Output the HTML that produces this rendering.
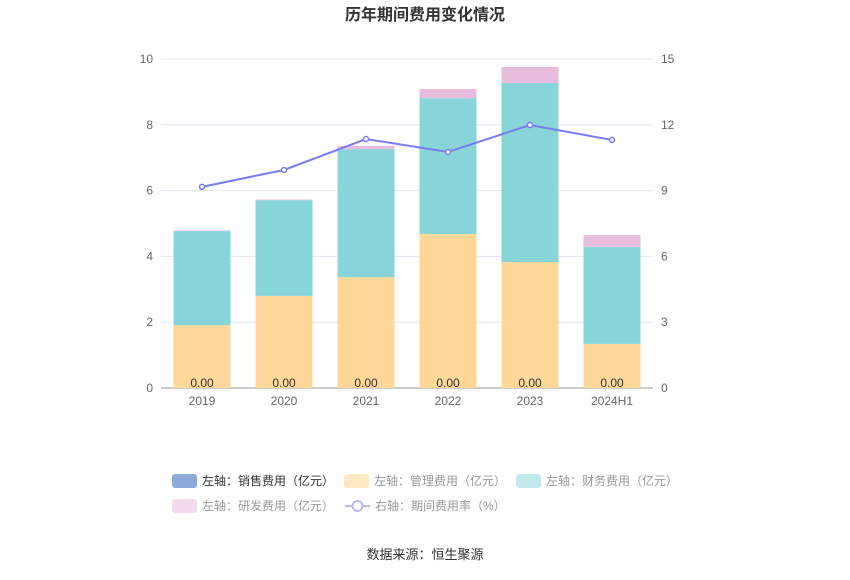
<!DOCTYPE html>
<html><head><meta charset="utf-8"><style>
body{margin:0;background:#fff;font-family:"Liberation Sans","Noto Sans CJK SC",sans-serif;}
</style></head><body>
<svg id="c" width="850" height="575" xmlns="http://www.w3.org/2000/svg" style="font-family:'Liberation Sans','Noto Sans CJK SC',sans-serif">
<text x="425" y="20" text-anchor="middle" font-size="16" font-weight="bold" fill="#333">历年期间费用变化情况</text>
<text x="425" y="559" text-anchor="middle" font-size="13" fill="#333">数据来源：恒生聚源</text>
<g id="grid"></g><g id="bars"></g><g id="line"></g><g id="legend"></g>
</svg>
<script>
const categories=["2019","2020","2021","2022","2023","2024H1"];
const sales=[0,0,0,0,0,0];
const mgmt=[1.91,2.80,3.37,4.68,3.83,1.34];
const finance=[2.86,2.91,3.89,4.13,5.44,2.95];
const rd=[0.02,0.02,0.10,0.28,0.49,0.36];
const rate=[9.17,9.94,11.35,10.76,11.99,11.31];
const leftTicks=[0,2,4,6,8,10];
const rightTicks=[0,3,6,9,12,15];
const NS="http://www.w3.org/2000/svg";
const x0=161,x1=653,yb=388,yt=59;
const yL=v=>yb-(v/10)*(yb-yt);
const yR=v=>yb-(v/15)*(yb-yt);
const step=(x1-x0)/categories.length;
const xC=i=>x0+step*(i+0.5);
function mk(tag,attrs,parent,text){const e=document.createElementNS(NS,tag);for(const k in attrs)e.setAttribute(k,attrs[k]);if(text!==undefined)e.textContent=text;parent.appendChild(e);return e;}
const g=document.getElementById('grid');
leftTicks.forEach((t,i)=>{
  const y=yL(t);
  const l=mk('line',{x1:x0,x2:x1,y1:y,y2:y,stroke:i===0?'#999':'#e0e6f1','stroke-width':1},g);
  
  
  const a=mk('text',{x:x0-8,y:y+4,'text-anchor':'end','font-size':12,fill:'#666'},g,t);
  
  
});
rightTicks.forEach(t=>{
  const b=mk('text',{x:x1+8,y:yR(t)+4,'text-anchor':'start','font-size':12,fill:'#666'},g,t);
  
  
});
categories.forEach((c,i)=>{
  const t=mk('text',{x:xC(i),y:yb+17,'text-anchor':'middle','font-size':12,fill:'#666'},g,c);
  
  
});
const bg=document.getElementById('bars');
const series=[[sales,'#8eaadb','sales'],[mgmt,'#ffd899','mgmt'],[finance,'#88d5d9','finance'],[rd,'#e8bcdc','rd']];
const bw=57;
categories.forEach((c,i)=>{
  let acc=0;
  series.forEach(([arr,col,nm])=>{
    const v=arr[i];const yTop=yL(acc+v),yBot=yL(acc);
    const r=mk('rect',{x:xC(i)-bw/2,y:yTop,width:bw,height:Math.max(0,yBot-yTop),fill:col},bg);
    
    
    acc+=v;
  });
  const lb=mk('text',{x:xC(i),y:yb-1,'text-anchor':'middle','font-size':12,fill:'#333'},bg,sales[i].toFixed(2));
  
  
});
const lg=document.getElementById('line');
const pts=rate.map((v,i)=>xC(i)+','+yR(v)).join(' ');
const pl=mk('polyline',{points:pts,fill:'none',stroke:'#7b7bf0','stroke-width':2},lg);


rate.forEach((v,i)=>{
  const p=mk('circle',{cx:xC(i),cy:yR(v),r:2.5,fill:'#fff',stroke:'#7b7bf0','stroke-width':1.5},lg);
  
  
});
const L=document.getElementById('legend');
const items=[[172,481,'#8eaadb','左轴：销售费用（亿元）','#333'],[344,481,'#ffe9c4','左轴：管理费用（亿元）','#999'],[516,481,'#c0e9ec','左轴：财务费用（亿元）','#999'],[172,506,'#f3d9ec','左轴：研发费用（亿元）','#999']];
items.forEach(([x,y,col,txt,tc])=>{
  const r=mk('rect',{x:x,y:y-7,width:25,height:14,rx:3,fill:col},L);
  
  
  const t=mk('text',{x:x+30,y:y+4,'font-size':12,fill:tc},L,txt);
  
  
});
const ll=mk('line',{x1:345,x2:370,y1:506,y2:506,stroke:'#b8b8f5','stroke-width':2},L);


const lc=mk('circle',{cx:357.5,cy:506,r:5,fill:'#fff',stroke:'#b8b8f5','stroke-width':2},L);


const lt=mk('text',{x:375,y:510,'font-size':12,fill:'#999'},L,'右轴：期间费用率（%）');


</script>
</body></html>
